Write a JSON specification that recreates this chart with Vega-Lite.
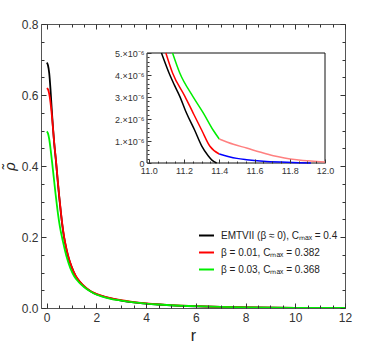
{
  "$schema": "https://vega.github.io/schema/vega-lite/v6.json",
  "width": 304,
  "height": 284,
  "autosize": "none",
  "padding": {"left": 41, "top": 24, "right": 29, "bottom": 42},
  "background": "white",
  "config": {
    "font": "Liberation Sans",
    "view": {"stroke": "#555", "strokeWidth": 1},
    "axis": {"grid": false, "labelColor": "#333", "labelFont": "Liberation Sans", "titleColor": "#222", "domain": false, "ticks": true, "tickColor": "#333", "tickWidth": 1, "labelOverlap": false}
  },
  "datasets": {
    "main": [
      {"series": "EMTVII (β ≈ 0), Cₘₐₓ = 0.4", "r": 0, "rho": 0.691},
      {"series": "EMTVII (β ≈ 0), Cₘₐₓ = 0.4", "r": 0.05, "rho": 0.684},
      {"series": "EMTVII (β ≈ 0), Cₘₐₓ = 0.4", "r": 0.1, "rho": 0.662},
      {"series": "EMTVII (β ≈ 0), Cₘₐₓ = 0.4", "r": 0.15, "rho": 0.618},
      {"series": "EMTVII (β ≈ 0), Cₘₐₓ = 0.4", "r": 0.2, "rho": 0.562},
      {"series": "EMTVII (β ≈ 0), Cₘₐₓ = 0.4", "r": 0.25, "rho": 0.51},
      {"series": "EMTVII (β ≈ 0), Cₘₐₓ = 0.4", "r": 0.3, "rho": 0.465},
      {"series": "EMTVII (β ≈ 0), Cₘₐₓ = 0.4", "r": 0.37, "rho": 0.415},
      {"series": "EMTVII (β ≈ 0), Cₘₐₓ = 0.4", "r": 0.44, "rho": 0.36},
      {"series": "EMTVII (β ≈ 0), Cₘₐₓ = 0.4", "r": 0.5, "rho": 0.315},
      {"series": "EMTVII (β ≈ 0), Cₘₐₓ = 0.4", "r": 0.57, "rho": 0.268},
      {"series": "EMTVII (β ≈ 0), Cₘₐₓ = 0.4", "r": 0.63, "rho": 0.232},
      {"series": "EMTVII (β ≈ 0), Cₘₐₓ = 0.4", "r": 0.7, "rho": 0.198},
      {"series": "EMTVII (β ≈ 0), Cₘₐₓ = 0.4", "r": 0.8, "rho": 0.163},
      {"series": "EMTVII (β ≈ 0), Cₘₐₓ = 0.4", "r": 0.9, "rho": 0.136},
      {"series": "EMTVII (β ≈ 0), Cₘₐₓ = 0.4", "r": 1.0, "rho": 0.116},
      {"series": "EMTVII (β ≈ 0), Cₘₐₓ = 0.4", "r": 1.17, "rho": 0.089},
      {"series": "EMTVII (β ≈ 0), Cₘₐₓ = 0.4", "r": 1.35, "rho": 0.072},
      {"series": "EMTVII (β ≈ 0), Cₘₐₓ = 0.4", "r": 1.5, "rho": 0.061},
      {"series": "EMTVII (β ≈ 0), Cₘₐₓ = 0.4", "r": 1.7, "rho": 0.05},
      {"series": "EMTVII (β ≈ 0), Cₘₐₓ = 0.4", "r": 1.9, "rho": 0.042},
      {"series": "EMTVII (β ≈ 0), Cₘₐₓ = 0.4", "r": 2.2, "rho": 0.034},
      {"series": "EMTVII (β ≈ 0), Cₘₐₓ = 0.4", "r": 2.57, "rho": 0.027},
      {"series": "EMTVII (β ≈ 0), Cₘₐₓ = 0.4", "r": 3.0, "rho": 0.021},
      {"series": "EMTVII (β ≈ 0), Cₘₐₓ = 0.4", "r": 3.5, "rho": 0.016},
      {"series": "EMTVII (β ≈ 0), Cₘₐₓ = 0.4", "r": 4.0, "rho": 0.0125},
      {"series": "EMTVII (β ≈ 0), Cₘₐₓ = 0.4", "r": 4.5, "rho": 0.0098},
      {"series": "EMTVII (β ≈ 0), Cₘₐₓ = 0.4", "r": 5.0, "rho": 0.0076},
      {"series": "EMTVII (β ≈ 0), Cₘₐₓ = 0.4", "r": 6.0, "rho": 0.0048},
      {"series": "EMTVII (β ≈ 0), Cₘₐₓ = 0.4", "r": 7.0, "rho": 0.003},
      {"series": "EMTVII (β ≈ 0), Cₘₐₓ = 0.4", "r": 8.0, "rho": 0.0018},
      {"series": "EMTVII (β ≈ 0), Cₘₐₓ = 0.4", "r": 9.0, "rho": 0.001},
      {"series": "EMTVII (β ≈ 0), Cₘₐₓ = 0.4", "r": 10.0, "rho": 0.0004},
      {"series": "EMTVII (β ≈ 0), Cₘₐₓ = 0.4", "r": 10.5, "rho": 0.0001},
      {"series": "EMTVII (β ≈ 0), Cₘₐₓ = 0.4", "r": 11.0, "rho": 0.00001},
      {"series": "EMTVII (β ≈ 0), Cₘₐₓ = 0.4", "r": 11.385, "rho": 0},
      {"series": "β = 0.01, Cₘₐₓ = 0.382", "r": 0, "rho": 0.619},
      {"series": "β = 0.01, Cₘₐₓ = 0.382", "r": 0.05, "rho": 0.616},
      {"series": "β = 0.01, Cₘₐₓ = 0.382", "r": 0.1, "rho": 0.603},
      {"series": "β = 0.01, Cₘₐₓ = 0.382", "r": 0.15, "rho": 0.58},
      {"series": "β = 0.01, Cₘₐₓ = 0.382", "r": 0.2, "rho": 0.548},
      {"series": "β = 0.01, Cₘₐₓ = 0.382", "r": 0.25, "rho": 0.508},
      {"series": "β = 0.01, Cₘₐₓ = 0.382", "r": 0.3, "rho": 0.466},
      {"series": "β = 0.01, Cₘₐₓ = 0.382", "r": 0.37, "rho": 0.417},
      {"series": "β = 0.01, Cₘₐₓ = 0.382", "r": 0.44, "rho": 0.362},
      {"series": "β = 0.01, Cₘₐₓ = 0.382", "r": 0.5, "rho": 0.317},
      {"series": "β = 0.01, Cₘₐₓ = 0.382", "r": 0.57, "rho": 0.27},
      {"series": "β = 0.01, Cₘₐₓ = 0.382", "r": 0.63, "rho": 0.234},
      {"series": "β = 0.01, Cₘₐₓ = 0.382", "r": 0.7, "rho": 0.2},
      {"series": "β = 0.01, Cₘₐₓ = 0.382", "r": 0.8, "rho": 0.165},
      {"series": "β = 0.01, Cₘₐₓ = 0.382", "r": 0.9, "rho": 0.138},
      {"series": "β = 0.01, Cₘₐₓ = 0.382", "r": 1.0, "rho": 0.117},
      {"series": "β = 0.01, Cₘₐₓ = 0.382", "r": 1.17, "rho": 0.09},
      {"series": "β = 0.01, Cₘₐₓ = 0.382", "r": 1.35, "rho": 0.073},
      {"series": "β = 0.01, Cₘₐₓ = 0.382", "r": 1.5, "rho": 0.062},
      {"series": "β = 0.01, Cₘₐₓ = 0.382", "r": 1.7, "rho": 0.051},
      {"series": "β = 0.01, Cₘₐₓ = 0.382", "r": 1.9, "rho": 0.043},
      {"series": "β = 0.01, Cₘₐₓ = 0.382", "r": 2.2, "rho": 0.035},
      {"series": "β = 0.01, Cₘₐₓ = 0.382", "r": 2.57, "rho": 0.028},
      {"series": "β = 0.01, Cₘₐₓ = 0.382", "r": 3.0, "rho": 0.022},
      {"series": "β = 0.01, Cₘₐₓ = 0.382", "r": 3.5, "rho": 0.0165},
      {"series": "β = 0.01, Cₘₐₓ = 0.382", "r": 4.0, "rho": 0.013},
      {"series": "β = 0.01, Cₘₐₓ = 0.382", "r": 4.5, "rho": 0.0102},
      {"series": "β = 0.01, Cₘₐₓ = 0.382", "r": 5.0, "rho": 0.008},
      {"series": "β = 0.01, Cₘₐₓ = 0.382", "r": 6.0, "rho": 0.005},
      {"series": "β = 0.01, Cₘₐₓ = 0.382", "r": 7.0, "rho": 0.0032},
      {"series": "β = 0.01, Cₘₐₓ = 0.382", "r": 8.0, "rho": 0.0019},
      {"series": "β = 0.01, Cₘₐₓ = 0.382", "r": 9.0, "rho": 0.0011},
      {"series": "β = 0.01, Cₘₐₓ = 0.382", "r": 10.0, "rho": 0.0005},
      {"series": "β = 0.01, Cₘₐₓ = 0.382", "r": 10.5, "rho": 0.00012},
      {"series": "β = 0.01, Cₘₐₓ = 0.382", "r": 11.0, "rho": 0.000012},
      {"series": "β = 0.01, Cₘₐₓ = 0.382", "r": 11.5, "rho": 0.0000002},
      {"series": "β = 0.01, Cₘₐₓ = 0.382", "r": 11.92, "rho": 0},
      {"series": "β = 0.03, Cₘₐₓ = 0.368", "r": 0, "rho": 0.497},
      {"series": "β = 0.03, Cₘₐₓ = 0.368", "r": 0.05, "rho": 0.492},
      {"series": "β = 0.03, Cₘₐₓ = 0.368", "r": 0.1, "rho": 0.476},
      {"series": "β = 0.03, Cₘₐₓ = 0.368", "r": 0.16, "rho": 0.445},
      {"series": "β = 0.03, Cₘₐₓ = 0.368", "r": 0.22, "rho": 0.408},
      {"series": "β = 0.03, Cₘₐₓ = 0.368", "r": 0.28, "rho": 0.37},
      {"series": "β = 0.03, Cₘₐₓ = 0.368", "r": 0.35, "rho": 0.325},
      {"series": "β = 0.03, Cₘₐₓ = 0.368", "r": 0.43, "rho": 0.278},
      {"series": "β = 0.03, Cₘₐₓ = 0.368", "r": 0.53, "rho": 0.229},
      {"series": "β = 0.03, Cₘₐₓ = 0.368", "r": 0.66, "rho": 0.185},
      {"series": "β = 0.03, Cₘₐₓ = 0.368", "r": 0.75, "rho": 0.158},
      {"series": "β = 0.03, Cₘₐₓ = 0.368", "r": 0.83, "rho": 0.137},
      {"series": "β = 0.03, Cₘₐₓ = 0.368", "r": 0.95, "rho": 0.112},
      {"series": "β = 0.03, Cₘₐₓ = 0.368", "r": 1.1, "rho": 0.09},
      {"series": "β = 0.03, Cₘₐₓ = 0.368", "r": 1.3, "rho": 0.072},
      {"series": "β = 0.03, Cₘₐₓ = 0.368", "r": 1.5, "rho": 0.059},
      {"series": "β = 0.03, Cₘₐₓ = 0.368", "r": 1.7, "rho": 0.049},
      {"series": "β = 0.03, Cₘₐₓ = 0.368", "r": 1.9, "rho": 0.041},
      {"series": "β = 0.03, Cₘₐₓ = 0.368", "r": 2.2, "rho": 0.033},
      {"series": "β = 0.03, Cₘₐₓ = 0.368", "r": 2.57, "rho": 0.026},
      {"series": "β = 0.03, Cₘₐₓ = 0.368", "r": 3.0, "rho": 0.021},
      {"series": "β = 0.03, Cₘₐₓ = 0.368", "r": 3.5, "rho": 0.016},
      {"series": "β = 0.03, Cₘₐₓ = 0.368", "r": 4.0, "rho": 0.0125},
      {"series": "β = 0.03, Cₘₐₓ = 0.368", "r": 4.5, "rho": 0.0099},
      {"series": "β = 0.03, Cₘₐₓ = 0.368", "r": 5.0, "rho": 0.0078},
      {"series": "β = 0.03, Cₘₐₓ = 0.368", "r": 6.0, "rho": 0.005},
      {"series": "β = 0.03, Cₘₐₓ = 0.368", "r": 7.0, "rho": 0.0032},
      {"series": "β = 0.03, Cₘₐₓ = 0.368", "r": 8.0, "rho": 0.002},
      {"series": "β = 0.03, Cₘₐₓ = 0.368", "r": 9.0, "rho": 0.0012},
      {"series": "β = 0.03, Cₘₐₓ = 0.368", "r": 10.0, "rho": 0.0006},
      {"series": "β = 0.03, Cₘₐₓ = 0.368", "r": 10.5, "rho": 0.00015},
      {"series": "β = 0.03, Cₘₐₓ = 0.368", "r": 11.0, "rho": 0.000015},
      {"series": "β = 0.03, Cₘₐₓ = 0.368", "r": 11.5, "rho": 0.0000008},
      {"series": "β = 0.03, Cₘₐₓ = 0.368", "r": 12.0, "rho": 0.00000005}
    ],
    "inset": [
      {"s": "k", "r": 11.072, "rho": 0.000005},
      {"s": "k", "r": 11.115, "rho": 0.00000409},
      {"s": "k", "r": 11.145, "rho": 0.00000355},
      {"s": "k", "r": 11.176, "rho": 0.00000303},
      {"s": "k", "r": 11.214, "rho": 0.00000227},
      {"s": "k", "r": 11.26, "rho": 0.0000015},
      {"s": "k", "r": 11.3, "rho": 0.00000078},
      {"s": "k", "r": 11.337, "rho": 0.00000033},
      {"s": "k", "r": 11.36, "rho": 0.00000012},
      {"s": "k", "r": 11.385, "rho": 0},
      {"s": "r", "r": 11.097, "rho": 0.000005},
      {"s": "r", "r": 11.135, "rho": 0.00000409},
      {"s": "r", "r": 11.205, "rho": 0.00000303},
      {"s": "r", "r": 11.252, "rho": 0.00000227},
      {"s": "r", "r": 11.3, "rho": 0.0000015},
      {"s": "r", "r": 11.347, "rho": 0.00000076},
      {"s": "r", "r": 11.4, "rho": 0.00000041},
      {"s": "b", "r": 11.4, "rho": 0.00000041},
      {"s": "b", "r": 11.45, "rho": 0.0000003},
      {"s": "b", "r": 11.5, "rho": 0.00000021},
      {"s": "b", "r": 11.555, "rho": 0.00000015},
      {"s": "b", "r": 11.65, "rho": 0.00000008},
      {"s": "b", "r": 11.75, "rho": 0.00000004},
      {"s": "b", "r": 11.85, "rho": 0.000000015},
      {"s": "b", "r": 11.92, "rho": 0},
      {"s": "g", "r": 11.135, "rho": 0.000005},
      {"s": "g", "r": 11.176, "rho": 0.00000409},
      {"s": "g", "r": 11.25, "rho": 0.00000303},
      {"s": "g", "r": 11.31, "rho": 0.00000227},
      {"s": "g", "r": 11.365, "rho": 0.0000015},
      {"s": "g", "r": 11.4, "rho": 0.00000109},
      {"s": "p", "r": 11.4, "rho": 0.00000109},
      {"s": "p", "r": 11.48, "rho": 0.00000085},
      {"s": "p", "r": 11.555, "rho": 0.00000068},
      {"s": "p", "r": 11.63, "rho": 0.0000005},
      {"s": "p", "r": 11.707, "rho": 0.00000033},
      {"s": "p", "r": 11.77, "rho": 0.00000023},
      {"s": "p", "r": 11.84, "rho": 0.00000015},
      {"s": "p", "r": 11.92, "rho": 0.00000009},
      {"s": "p", "r": 12.0, "rho": 0.00000005}
    ],
    "frame": [{"x1": 10.99, "x2": 12.0, "y1": 0, "y2": 0.000005}]
  },
  "layer": [
    {
      "data": {"name": "main"},
      "mark": {"type": "line", "strokeWidth": 1.8, "clip": true, "interpolate": "monotone"},
      "encoding": {
        "x": {
          "field": "r", "type": "quantitative",
          "scale": {"domain": [-0.23, 12], "nice": false, "zero": false},
          "axis": {
            "title": "r", "titleFontSize": 16, "titleFontWeight": "normal", "titlePadding": 4, "labelOverlap": false,
            "values": [0, 2, 4, 6, 8, 10, 12], "format": "d", "offset": -5, "zindex": 1,
            "labelFontSize": 12, "labelPadding": 4, "labelFlush": false, "tickSize": 5
          }
        },
        "y": {
          "field": "rho", "type": "quantitative",
          "scale": {"domain": [0, 0.8], "nice": false},
          "axis": {
            "title": "ρ̃", "titleFontSize": 15, "titleFontStyle": "italic", "titleFontWeight": "normal", "titlePadding": 4, "labelOverlap": false,
            "values": [0, 0.2, 0.4, 0.6, 0.8], "format": ".1f", "offset": -5, "zindex": 1,
            "labelFontSize": 12, "labelPadding": 3, "labelFlush": false, "tickSize": 5
          }
        },
        "color": {
          "field": "series", "type": "nominal",
          "scale": {"domain": ["EMTVII (β ≈ 0), Cₘₐₓ = 0.4", "β = 0.01, Cₘₐₓ = 0.382", "β = 0.03, Cₘₐₓ = 0.368"], "range": ["#000000", "#ff0000", "#00ee00"]},
          "legend": {
            "title": null, "orient": "none", "legendX": 157, "legendY": 203,
            "symbolType": "stroke", "symbolSize": 225, "symbolStrokeWidth": 2,
            "labelFontSize": 10, "labelColor": "#222", "rowPadding": 3, "labelOffset": 6
          }
        }
      }
    },
    {
      "data": {"name": "frame"},
      "mark": {"type": "point", "opacity": 0},
      "encoding": {
        "x": {
          "field": "x1", "type": "quantitative",
          "scale": {"domain": [-0.23, 12], "nice": false, "zero": false},
          "axis": {"orient": "bottom", "title": null, "labels": false, "zindex": 1, "tickSize": 3, "offset": -3,
            "values": [0.5, 1, 1.5, 2.5, 3, 3.5, 4.5, 5, 5.5, 6.5, 7, 7.5, 8.5, 9, 9.5, 10.5, 11, 11.5]}
        },
        "y": {
          "field": "y1", "type": "quantitative",
          "scale": {"domain": [0, 0.8], "nice": false},
          "axis": {"orient": "left", "title": null, "labels": false, "zindex": 1, "tickSize": 3, "offset": -3,
            "values": [0.05, 0.1, 0.15, 0.25, 0.3, 0.35, 0.45, 0.5, 0.55, 0.65, 0.7, 0.75]}
        }
      }
    },
    {
      "data": {"name": "frame"},
      "mark": {"type": "point", "opacity": 0},
      "encoding": {
        "x": {
          "field": "x1", "type": "quantitative",
          "scale": {"domain": [-0.23, 12], "nice": false, "zero": false},
          "axis": {"orient": "top", "title": null, "labels": false, "zindex": 1, "tickSize": 5, "offset": -5,
            "values": [0, 2, 4, 6, 8, 10, 12]}
        },
        "y": {
          "field": "y1", "type": "quantitative",
          "scale": {"domain": [0, 0.8], "nice": false},
          "axis": {"orient": "right", "title": null, "labels": false, "zindex": 1, "tickSize": 5, "offset": -5,
            "values": [0, 0.2, 0.4, 0.6, 0.8]}
        }
      }
    },
    {
      "data": {"name": "frame"},
      "mark": {"type": "point", "opacity": 0},
      "encoding": {
        "x": {
          "field": "x1", "type": "quantitative",
          "scale": {"domain": [-0.23, 12], "nice": false, "zero": false},
          "axis": {"orient": "top", "title": null, "labels": false, "zindex": 1, "tickSize": 3, "offset": -3,
            "values": [0.5, 1, 1.5, 2.5, 3, 3.5, 4.5, 5, 5.5, 6.5, 7, 7.5, 8.5, 9, 9.5, 10.5, 11, 11.5]}
        },
        "y": {
          "field": "y1", "type": "quantitative",
          "scale": {"domain": [0, 0.8], "nice": false},
          "axis": {"orient": "right", "title": null, "labels": false, "zindex": 1, "tickSize": 3, "offset": -3,
            "values": [0.05, 0.1, 0.15, 0.25, 0.3, 0.35, 0.45, 0.5, 0.55, 0.65, 0.7, 0.75]}
        }
      }
    },
    {
      "layer": [
        {
          "data": {"name": "frame"},
          "mark": {"type": "rect", "fill": "white", "stroke": "#111", "strokeWidth": 1},
          "encoding": {
            "x": {
              "field": "x1", "type": "quantitative",
              "scale": {"domain": [10.99, 12.0], "range": [106, 284], "nice": false, "zero": false},
              "axis": {
                "orient": "bottom", "offset": -149, "title": null, "zindex": 2, "labelOverlap": false,
                "values": [11.0, 11.2, 11.4, 11.6, 11.8, 12.0], "format": ".1f",
                "labelFontSize": 9, "labelPadding": 3, "labelFlush": false, "tickSize": 4
              }
            },
            "x2": {"field": "x2"},
            "y": {
              "field": "y1", "type": "quantitative",
              "scale": {"domain": [0, 0.000005], "range": [139, 29], "nice": false, "zero": false},
              "axis": {
                "orient": "left", "offset": -110, "title": null, "zindex": 2, "labelOverlap": false,
                "values": [0, 0.000001, 0.000002, 0.000003, 0.000004, 0.000005],
                "labelExpr": "datum.value == 0 ? '0' : format(round(datum.value * 1e6), 'd') + '.×10⁻⁶'",
                "labelFontSize": 9, "labelPadding": 3, "labelFlush": false, "tickSize": 4
              }
            },
            "y2": {"field": "y2"}
          }
        },
        {
          "data": {"name": "inset"},
          "mark": {"type": "line", "strokeWidth": 1.5, "interpolate": "monotone"},
          "encoding": {
            "x": {"field": "r", "type": "quantitative"},
            "y": {"field": "rho", "type": "quantitative"},
            "color": {
              "field": "s", "type": "nominal",
              "scale": {"domain": ["k", "r", "b", "g", "p"], "range": ["#000000", "#ff0000", "#0000ff", "#00ee00", "#ff8080"]},
              "legend": null
            }
          }
        }
      ]
    },
    {
      "data": {"name": "frame"},
      "mark": {"type": "point", "opacity": 0},
      "encoding": {
        "x": {
          "field": "x1", "type": "quantitative",
          "scale": {"domain": [10.99, 12.0], "range": [106, 284], "nice": false, "zero": false},
          "axis": {"orient": "bottom", "offset": -147, "title": null, "labels": false, "zindex": 2, "tickSize": 2,
            "values": [11.05, 11.1, 11.15, 11.25, 11.3, 11.35, 11.45, 11.5, 11.55, 11.65, 11.7, 11.75, 11.85, 11.9, 11.95]}
        },
        "y": {
          "field": "y1", "type": "quantitative",
          "scale": {"domain": [0, 0.000005], "range": [139, 29], "nice": false, "zero": false},
          "axis": {"orient": "left", "offset": -108, "title": null, "labels": false, "zindex": 2, "tickSize": 2,
            "values": [0.0000002, 0.0000004, 0.0000006, 0.0000008, 0.0000012, 0.0000014, 0.0000016, 0.0000018, 0.0000022, 0.0000024, 0.0000026, 0.0000028, 0.0000032, 0.0000034, 0.0000036, 0.0000038, 0.0000042, 0.0000044, 0.0000046, 0.0000048]}
        }
      }
    }
  ],
  "resolve": {
    "scale": {"x": "independent", "y": "independent", "color": "independent"},
    "axis": {"x": "independent", "y": "independent"}
  }
}
